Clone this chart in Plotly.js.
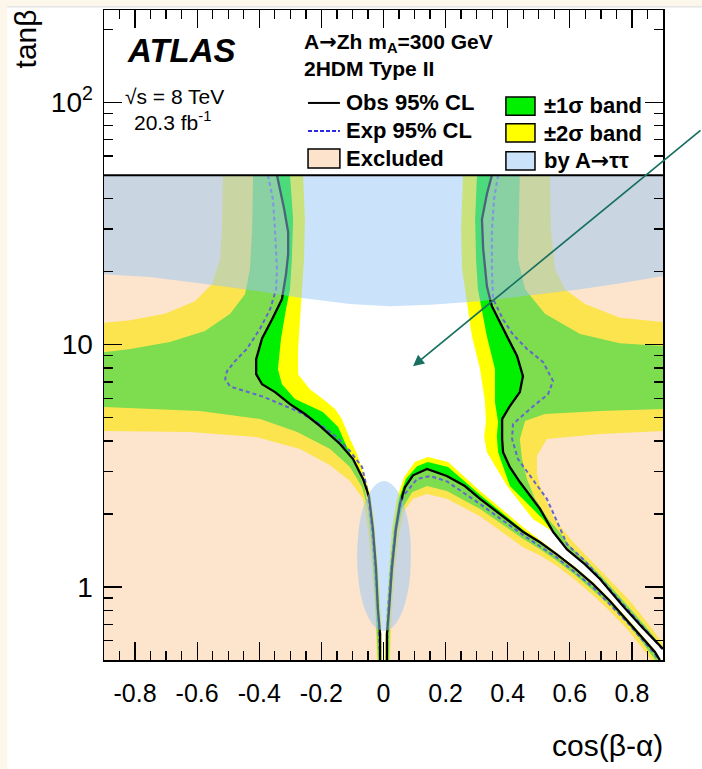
<!DOCTYPE html>
<html><head><meta charset="utf-8">
<script src="https://cdn.plot.ly/plotly-3.0.1.min.js"></script>
<style>html,body{margin:0;padding:0;background:#fff;}#chart{width:702px;height:769px;}</style>
</head><body><div id="chart"></div>
<script>
// ---------- Observed 95% CL contour: cos(beta-alpha), tan(beta) ----------
const obsLeftX = [-0.343,-0.333,-0.320,-0.307,-0.307,-0.314,-0.327,-0.359,-0.391,-0.410,-0.410,-0.391,-0.349,-0.301,-0.253,-0.204,-0.140,-0.098,-0.066,-0.047,-0.034,-0.024,-0.018,-0.011,-0.011];
const obsLeftY = [50,43.9,36.3,29.1,23.6,19.5,15.4,12.7,10.6,8.71,7.55,6.86,6.37,5.68,5.17,4.61,3.89,3.37,2.79,2.37,1.73,1.19,0.81,0.64,0.5];
const obsLowX = [0.011,0.011,0.018,0.027,0.040,0.053,0.069,0.095,0.140,0.204,0.262,0.311,0.375,0.449,0.504,0.559,0.617,0.674,0.729,0.784,0.835,0.874,0.890];
const obsLowY = [0.5,0.64,0.81,1.19,1.73,2.20,2.58,2.89,3.07,2.87,2.61,2.31,2.00,1.69,1.53,1.36,1.19,1.03,0.876,0.731,0.616,0.540,0.5];
const obsUpX = [0.349,0.333,0.317,0.321,0.333,0.349,0.398,0.430,0.449,0.439,0.407,0.382,0.382,0.385,0.407,0.439,0.504,0.546,0.591,0.649,0.697,0.771,0.835,0.9];
const obsUpY = [50,41.8,32.9,24.8,17.4,14.4,10.8,8.97,7.41,6.37,5.58,4.93,4.08,3.60,3.12,2.71,2.10,1.69,1.43,1.24,1.08,0.835,0.677,0.555];

// ---------- Expected 95% CL contour ----------
const expLeftX = [-0.372,-0.356,-0.349,-0.343,-0.346,-0.365,-0.398,-0.440,-0.478,-0.504,-0.510,-0.494,-0.388,-0.278,-0.214,-0.150,-0.108,-0.069,-0.053,-0.037,-0.027,-0.018,-0.014,-0.011];
const expLeftY = [50,39.8,29.1,20.5,16.9,14.0,11.6,9.6,8.55,7.77,7.2,6.72,6.10,5.32,4.79,4.15,3.64,3.13,2.54,1.73,1.19,0.81,0.61,0.5];
const expLowX = [0.011,0.014,0.024,0.037,0.063,0.108,0.150,0.204,0.311,0.449,0.559,0.674,0.784,0.874,0.884];
const expLowY = [0.5,0.81,1.19,1.73,2.37,2.79,2.87,2.73,2.20,1.64,1.32,1.0,0.717,0.529,0.5];
const expUpX = [0.369,0.356,0.349,0.349,0.353,0.385,0.417,0.462,0.514,0.536,0.546,0.530,0.472,0.417,0.414,0.433,0.481,0.526,0.555,0.591,0.649,0.703,0.777,0.842,0.9];
const expUpY = [50,39.8,29.1,20.5,15.4,12.7,11.0,9.6,8.47,7.55,7.07,6.25,5.43,4.70,4.08,3.37,2.79,2.31,1.91,1.50,1.28,1.07,0.835,0.671,0.55];

// ---------- Band edges (closed regions inside each edge) ----------
const band2OutX = [-0.517,-0.520,-0.526,-0.552,-0.607,-0.704,-0.816,-0.9,-0.9,-0.623,-0.407,-0.269,-0.172,-0.108,-0.066,-0.050,-0.037,-0.027,-0.021,0.021,0.027,0.037,0.050,0.066,0.095,0.140,0.204,0.311,0.449,0.504,0.559,0.617,0.674,0.729,0.784,0.826,0.862,0.9,0.9,0.866,0.794,0.720,0.671,0.617,0.568,0.546,0.504,0.494,0.494,0.526,0.697,0.9,0.9,0.761,0.649,0.584,0.552,0.539,0.536];
const band2OutY = [50,29.9,22.5,17.8,15.1,13.4,12.6,12.3,4.4,4.36,4.15,3.71,3.18,2.74,2.31,1.73,1.19,0.81,0.5,0.5,0.81,1.19,1.65,2.06,2.31,2.42,2.31,1.96,1.46,1.35,1.22,1.07,0.927,0.796,0.671,0.577,0.5,0.5,0.58,0.67,0.876,1.10,1.28,1.50,1.78,1.96,2.61,2.92,3.47,4.08,4.28,4.4,12.4,12.9,14.7,16.9,20.5,30.0,50];
const band1OutX = [-0.420,-0.423,-0.430,-0.446,-0.494,-0.575,-0.688,-0.816,-0.9,-0.9,-0.591,-0.397,-0.278,-0.172,-0.108,-0.069,-0.050,-0.037,-0.027,-0.018,0.018,0.021,0.031,0.043,0.060,0.092,0.140,0.204,0.311,0.449,0.504,0.559,0.617,0.674,0.729,0.784,0.830,0.875,0.9,0.9,0.848,0.784,0.710,0.665,0.604,0.559,0.530,0.488,0.462,0.446,0.439,0.456,0.520,0.697,0.9,0.9,0.761,0.633,0.520,0.456,0.433,0.439];
const band1OutY = [50,29.9,20.5,16.15,13.4,11.37,10.24,9.58,9.31,5.53,5.32,4.93,4.36,3.71,3.13,2.58,2.10,1.43,0.89,0.5,0.5,0.81,1.19,1.69,2.10,2.46,2.61,2.49,2.10,1.58,1.43,1.28,1.12,0.972,0.843,0.711,0.60,0.5,0.5,0.56,0.678,0.843,1.08,1.24,1.46,1.73,1.91,2.31,2.79,3.37,4.08,4.84,5.17,5.32,5.42,9.86,10.14,11.05,13.4,16.9,22.5,50];
const band1InX = [-0.301,-0.291,-0.295,-0.301,-0.314,-0.330,-0.340,-0.327,-0.285,-0.195,-0.146,-0.118,-0.085,-0.060,-0.043,-0.027,-0.014,-0.008,0.008,0.011,0.021,0.034,0.050,0.072,0.108,0.143,0.208,0.311,0.449,0.504,0.559,0.617,0.674,0.729,0.784,0.835,0.874,0.887,0.9,0.9,0.842,0.777,0.703,0.658,0.600,0.555,0.513,0.407,0.369,0.365,0.369,0.359,0.359,0.333,0.311,0.304,0.298,0.295,0.301];
const band1InY = [50,32.9,22.5,16.9,14.0,10.6,7.92,6.86,5.96,5.27,4.57,3.78,3.13,2.54,1.91,1.19,0.738,0.5,0.5,0.738,1.19,1.73,2.31,2.79,3.15,3.28,3.13,2.40,1.72,1.52,1.34,1.17,1.01,0.867,0.724,0.610,0.534,0.5,0.5,0.55,0.671,0.835,1.07,1.23,1.42,1.62,1.91,2.61,3.60,4.19,4.79,5.79,7.92,10.8,15.0,16.9,22.5,32.9,50];
const band2InX = [-0.259,-0.253,-0.256,-0.262,-0.269,-0.275,-0.275,-0.237,-0.195,-0.156,-0.134,-0.108,-0.085,-0.063,-0.043,-0.031,-0.018,-0.008,-0.005,0.005,0.008,0.018,0.027,0.043,0.066,0.101,0.143,0.208,0.311,0.449,0.504,0.559,0.617,0.674,0.729,0.784,0.835,0.874,0.890,0.9,0.9,0.835,0.771,0.697,0.649,0.591,0.546,0.481,0.398,0.333,0.324,0.330,0.327,0.311,0.285,0.269,0.253,0.250,0.256];
const band2InY = [50,32.9,22.5,16.9,12.7,9.58,7.55,6.55,5.96,5.42,4.93,4.08,3.54,2.92,2.42,1.91,1.19,0.738,0.5,0.5,0.738,1.19,1.73,2.31,2.84,3.28,3.44,3.28,2.49,1.77,1.56,1.38,1.21,1.05,0.893,0.745,0.628,0.550,0.5,0.5,0.555,0.677,0.835,1.08,1.24,1.43,1.69,1.91,2.61,3.60,4.19,4.79,5.79,7.92,10.8,15.0,20.5,30.0,50];

// ---------- Excluded by A -> tautau ----------
const tauTopX = [-0.9,-0.752,-0.591,-0.430,-0.269,-0.108,0.021,0.150,0.311,0.472,0.633,0.762,0.9,0.9,-0.9];
const tauTopY = [19.5,19.0,17.9,16.8,15.6,14.7,14.4,14.6,15.1,16.0,16.9,17.9,19.2,50,50];
const tauLowX = [0.088,0.086,0.077,0.063,0.045,0.024,0.002,-0.021,-0.042,-0.060,-0.074,-0.082,-0.085,-0.082,-0.074,-0.060,-0.042,-0.021,0.002,0.024,0.045,0.063,0.077,0.086];
const tauLowY = [1.34,1.61,1.92,2.22,2.49,2.67,2.74,2.67,2.49,2.22,1.92,1.61,1.34,1.12,0.94,0.81,0.724,0.675,0.659,0.675,0.724,0.81,0.94,1.12];

// ---------- Axes ----------
const xTickVals = [-0.8,-0.6,-0.4,-0.2,0,0.2,0.4,0.6,0.8];
const xTickText = ['-0.8','-0.6','-0.4','-0.2','0','0.2','0.4','0.6','0.8'];
const yTickVals = [1,10,100];
const yTickText = ['1','10','10<sup>2</sup>'];
const yMinorVals = [0.6,0.7,0.8,0.9,2,3,4,5,6,7,8,9,20,30,40,50,60,70,80,90,200];
const X_RANGE = [-0.9, 0.9];
const Y_MIN = 0.5, Y_TOP = 240, Y_FRAME = 50;

const C_YELLOW = '#ffff00', C_GREEN = 'rgb(0,240,0)';
const C_EXCL = 'rgba(250,201,155,0.5)', C_TAU = 'rgba(150,197,245,0.5)';

function region(x, y, color, shape) {
  return {type:'scatter', mode:'lines', x:x, y:y, fill:'toself', fillcolor:color,
          line:{width:0, shape:shape||'linear'}, hoverinfo:'skip', showlegend:false};
}
function joinLines(parts) {
  const x = [], y = [];
  parts.forEach((p, i) => { if (i) { x.push(null); y.push(null); } x.push(...p[0]); y.push(...p[1]); });
  return {x, y};
}
const obsAll = joinLines([[obsLeftX,obsLeftY],[obsLowX,obsLowY],[obsUpX,obsUpY]]);
const expAll = joinLines([[expLeftX,expLeftY],[expLowX,expLowY],[expUpX,expUpY]]);

const traces = [
  region(band2OutX, band2OutY, C_YELLOW),
  region(band1OutX, band1OutY, C_GREEN),
  region(band1InX, band1InY, C_YELLOW),
  region(band2InX, band2InY, '#ffffff'),
  region([X_RANGE[0], X_RANGE[0]].concat(obsLeftX), [Y_MIN, Y_FRAME].concat(obsLeftY), C_EXCL),
  region(obsLowX, obsLowY, C_EXCL),
  region(obsUpX.concat([X_RANGE[1]]), obsUpY.concat([Y_FRAME]), C_EXCL),
  {type:'scatter', mode:'lines', x:expAll.x, y:expAll.y, connectgaps:false,
   line:{color:'rgb(100,100,210)', width:2, dash:'4px,3px'}, hoverinfo:'skip', showlegend:false},
  {type:'scatter', mode:'lines', x:obsAll.x, y:obsAll.y, connectgaps:false,
   line:{color:'#000', width:2.3}, hoverinfo:'skip', showlegend:false},
  region(tauTopX, tauTopY, C_TAU),
  region(tauLowX, tauLowY, C_TAU, 'spline'),
  {type:'scatter', mode:'lines', x:X_RANGE, y:[Y_FRAME, Y_FRAME], line:{color:'#000', width:2},
   hoverinfo:'skip', showlegend:false}
];

const FONT = 'Liberation Sans, Arial, Helvetica, sans-serif';
const ARROW = '<span style="font-family:DejaVu Sans">→</span>';
function txt(t, x, y, size, extra) {
  return Object.assign({text:t, xref:'paper', yref:'paper', x:x, y:y, xanchor:'left', yanchor:'middle',
    showarrow:false, font:{family:FONT, size:size, color:'#000'}}, extra||{});
}
const annotations = [
  txt('<b><i>ATLAS</i></b>', 0.038, 0.938, 33),
  txt('√s = 8 TeV', 0.034, 0.867, 21),
  txt('20.3 fb<sup>-1</sup>', 0.050, 0.830, 21),
  txt('<b>A' + ARROW + 'Zh m<sub>A</sub>=300 GeV</b>', 0.355, 0.950, 21),
  txt('<b>2HDM Type II</b>', 0.355, 0.910, 21),
  txt('<b>Obs 95% CL</b>', 0.430, 0.857, 22),
  txt('<b>Exp 95% CL</b>', 0.430, 0.814, 22),
  txt('<b>Excluded</b>', 0.430, 0.771, 22),
  txt('<b>±1σ band</b>', 0.784, 0.853, 22),
  txt('<b>±2σ band</b>', 0.784, 0.810, 22),
  txt('<b>by A' + ARROW + 'ττ</b>', 0.784, 0.768, 22),
  txt('cos(β-α)', 1.004, -0.131, 30, {xanchor:'right'}),
  txt('tanβ', -0.141, 0.955, 30, {xanchor:'center', textangle:-90}),
  {x:0.095, y:Math.log10(8.15), xref:'x', yref:'y', ax:289, ay:-237, text:'', showarrow:true,
   arrowhead:2, arrowsize:1.3, arrowwidth:1.7, arrowcolor:'rgb(23,112,96)'}
];
const shapes = [
  {type:'rect', xref:'paper', yref:'paper', x0:-0.19, x1:-0.173, y0:-0.2, y1:1.02, fillcolor:'#fdf6ea', line:{width:0}},
  {type:'rect', xref:'paper', yref:'paper', x0:-0.19, x1:1.08, y0:1.0062, y1:1.02, fillcolor:'#fdf6ea', line:{width:0}},
  {type:'line', xref:'paper', yref:'paper', x0:-0.173, x1:1.08, y0:1.0048, y1:1.0048, line:{color:'#d6d6d6', width:1}},
  {type:'line', xref:'paper', yref:'paper', x0:0.365, x1:0.422, y0:0.857, y1:0.857, line:{color:'#000', width:2}},
  {type:'line', xref:'paper', yref:'paper', x0:0.365, x1:0.422, y0:0.814, y1:0.814, line:{color:'rgb(40,40,230)', width:2, dash:'4px,2px'}},
  {type:'rect', xref:'paper', yref:'paper', x0:0.365, x1:0.422, y0:0.757, y1:0.786, fillcolor:'#fde3cc', line:{color:'#000', width:1.5}},
  {type:'rect', xref:'paper', yref:'paper', x0:0.719, x1:0.771, y0:0.838, y1:0.866, fillcolor:C_GREEN, line:{color:'#000', width:1.5}},
  {type:'rect', xref:'paper', yref:'paper', x0:0.719, x1:0.771, y0:0.797, y1:0.825, fillcolor:C_YELLOW, line:{color:'#000', width:1.5}},
  {type:'rect', xref:'paper', yref:'paper', x0:0.719, x1:0.771, y0:0.754, y1:0.782, fillcolor:'#cae2fa', line:{color:'#000', width:1.5}}
];

const layout = {
  width:702, height:769,
  margin:{l:104, r:39, t:10, b:109, pad:0},
  paper_bgcolor:'#ffffff', plot_bgcolor:'#ffffff',
  showlegend:false,
  font:{family:FONT, color:'#000'},
  xaxis:{range:X_RANGE, tickmode:'array', tickvals:xTickVals, ticktext:xTickText,
    ticks:'inside', ticklen:18, tickwidth:1.3, tickcolor:'#000',
    showline:true, linecolor:'#000', linewidth:1.5, mirror:'ticks',
    showgrid:false, zeroline:false, tickfont:{family:FONT, size:25}, ticklabelstandoff:10,
    minor:{tickmode:'linear', tick0:0, dtick:0.05, ticks:'inside', ticklen:9, tickwidth:1.3, tickcolor:'#000', showgrid:false}},
  yaxis:{type:'log', range:[Math.log10(Y_MIN), Math.log10(Y_TOP)], tickmode:'array', tickvals:yTickVals, ticktext:yTickText,
    ticks:'inside', ticklen:18, tickwidth:1.3, tickcolor:'#000',
    showline:true, linecolor:'#000', linewidth:1.5, mirror:'ticks',
    showgrid:false, zeroline:false, tickfont:{family:FONT, size:28}, ticklabelstandoff:4,
    minor:{tickmode:'array', tickvals:yMinorVals, ticks:'inside', ticklen:9, tickwidth:1.3, tickcolor:'#000', showgrid:false}},
  annotations:annotations,
  shapes:shapes
};
Plotly.newPlot('chart', traces, layout, {staticPlot:true, displayModeBar:false});
</script>
</body></html>
